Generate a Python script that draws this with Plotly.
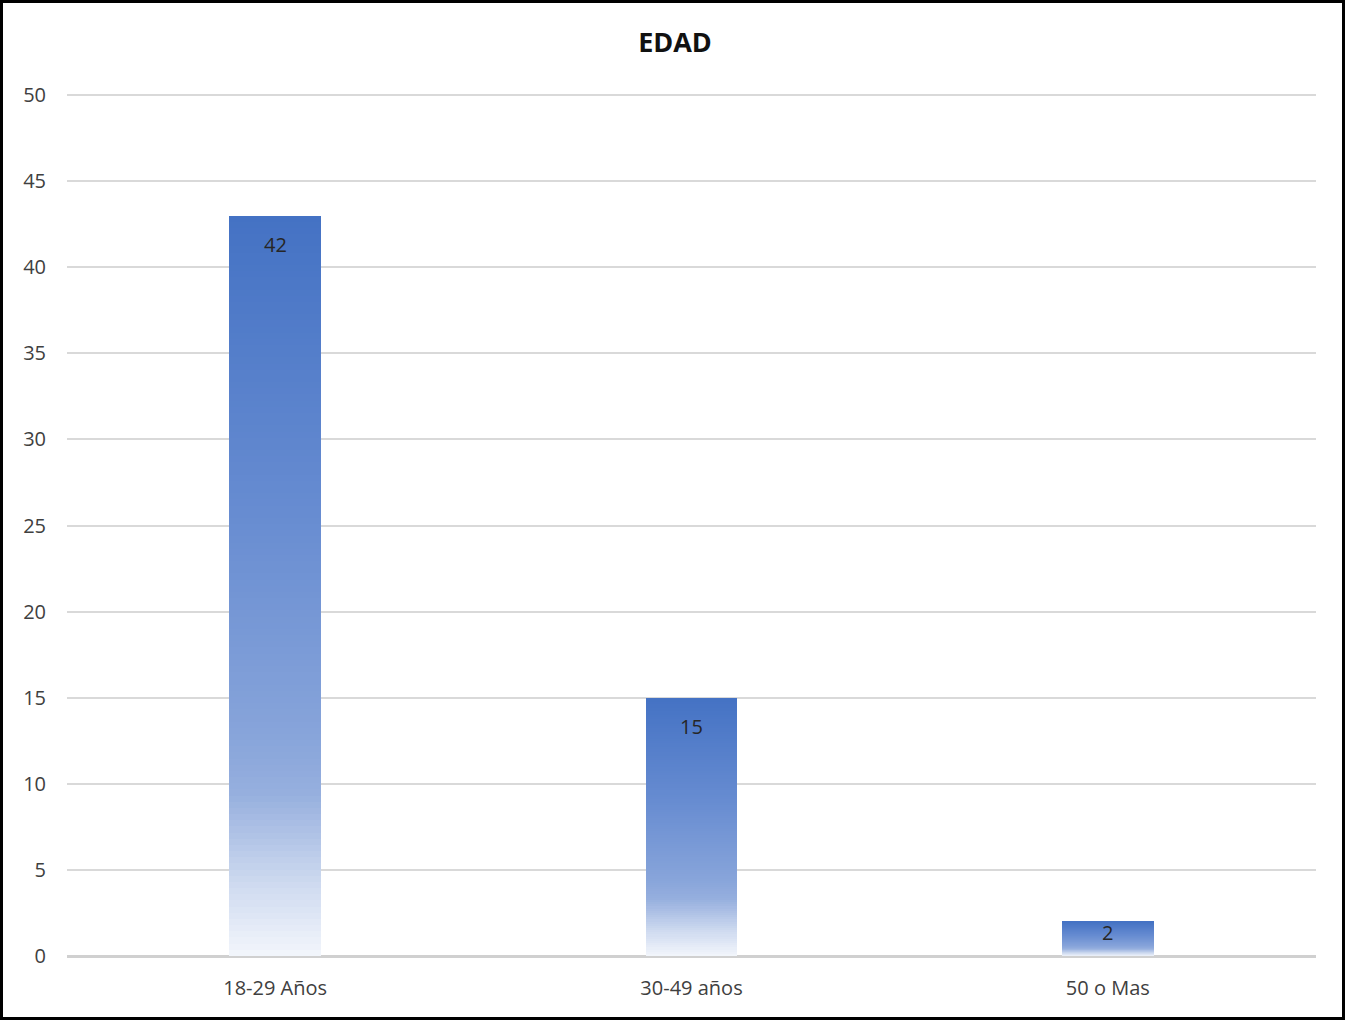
import plotly.graph_objects as go

# ---- data ----
categories = ["18-29 Años", "30-49 años", "50 o Mas"]
values = [43, 15, 2]
value_labels = ["42", "15", "2"]
y_ticks = [0, 5, 10, 15, 20, 25, 30, 35, 40, 45, 50]

# ---- gradient helper (bottom -> top) ----
stops = [
    (0.00, (243, 246, 252)),
    (0.10, (205, 217, 239)),
    (0.22, (150, 175, 222)),
    (0.30, (135, 164, 218)),
    (0.60, (103, 140, 209)),
    (1.00, (68, 114, 196)),
]


def grad(f):
    for (f0, c0), (f1, c1) in zip(stops[:-1], stops[1:]):
        if f <= f1:
            t = (f - f0) / (f1 - f0) if f1 > f0 else 0
            c = [round(a + (b - a) * t) for a, b in zip(c0, c1)]
            return f"rgb({c[0]},{c[1]},{c[2]})"
    c = stops[-1][1]
    return f"rgb({c[0]},{c[1]},{c[2]})"


W, H = 1345, 1020
ml, mr, mt, mb = 67, 29, 92, 64
pw, ph = W - ml - mr, H - mt - mb
PX_PER_UNIT = (956 - 95) / 50
YMAX = ph / PX_PER_UNIT

N = 120
fig = go.Figure()
for k in range(N):
    f = (k + 0.5) / N
    fig.add_trace(go.Bar(
        x=categories,
        y=[v / N for v in values],
        marker=dict(color=grad(f), line=dict(width=0)),
        hoverinfo="skip",
        showlegend=False,
    ))

for cat, v, lab in zip(categories, values, value_labels):
    bar_px = v / YMAX * ph
    shift = -29 if bar_px > 80 else -11
    fig.add_annotation(x=cat, y=v, text=lab, showarrow=False, yshift=shift,
                       font=dict(family="Open Sans", size=20, color="#262626"))


def px_x(p):
    return (p - ml) / pw


def px_y(p):
    return (H - mb - p) / ph


fig.add_shape(type="rect", xref="paper", yref="paper",
              x0=px_x(1.5), x1=px_x(1343.5), y0=px_y(1018.5), y1=px_y(1.5),
              line=dict(color="black", width=3), fillcolor="rgba(0,0,0,0)", layer="above")

fig.update_layout(
    width=W, height=H,
    margin=dict(l=ml, r=mr, t=mt, b=mb),
    barmode="stack", bargap=0.78,
    plot_bgcolor="white", paper_bgcolor="white",
    title=dict(text="<b>EDAD</b>", x=675 / W, xref="container", xanchor="center",
               y=1 - 43 / H, yref="container", yanchor="middle",
               font=dict(family="Open Sans", size=27, color="#111111")),
    font=dict(family="Open Sans", size=20, color="#404040"),
)
fig.update_yaxes(range=[0, YMAX], tickvals=y_ticks, showgrid=True, gridcolor="#d9d9d9", gridwidth=2,
                 zeroline=True, zerolinecolor="#d0d0d0", zerolinewidth=3,
                 ticklabelstandoff=20, tickfont=dict(color="#404040", size=20), showline=False)
fig.update_xaxes(showgrid=False, ticklabelstandoff=18, tickfont=dict(color="#404040", size=20), showline=False)

fig.write_html("out.html", config={"displayModeBar": False},
               post_script="document.body.style.margin='0';")
